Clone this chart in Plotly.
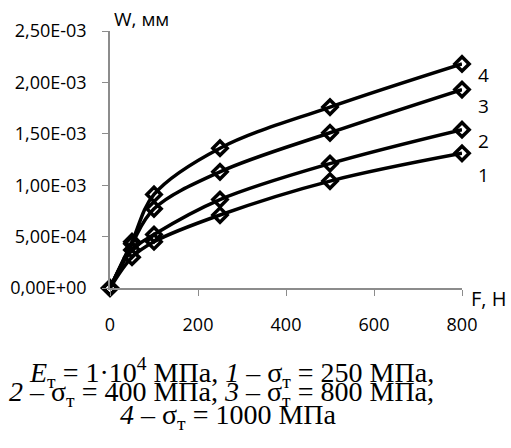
import plotly.graph_objects as go

F = [0, 50, 100, 250, 500, 800]
series = {
    "1": [0, 0.00030, 0.00045, 0.00071, 0.00104, 0.00131],
    "2": [0, 0.00037, 0.00052, 0.00086, 0.00121, 0.00154],
    "3": [0, 0.00043, 0.00077, 0.00113, 0.00151, 0.00193],
    "4": [0, 0.00045, 0.00091, 0.00136, 0.00176, 0.00218],
}
ytick_vals = [0, 0.0005, 0.001, 0.0015, 0.002, 0.0025]
ytick_text = ["0,00E+00", "5,00E-04", "1,00E-03", "1,50E-03", "2,00E-03", "2,50E-03"]
xtick_vals = [0, 200, 400, 600, 800]

L, R, T, B = 110, 462, 31, 288
W, H = 511, 448

fig = go.Figure()
for name, vals in series.items():
    fig.add_trace(go.Scatter(
        x=F, y=vals, mode="lines+markers", line=dict(color="black", width=3.5, shape="spline"),
        marker=dict(symbol="diamond-open", size=11, color="black", line=dict(width=3.5, color="black")),
        showlegend=False, cliponaxis=False, hoverinfo="skip"))

label_y = {"4": 0.00207, "3": 0.00177, "2": 0.00143, "1": 0.00110}
for name, yv in label_y.items():
    fig.add_annotation(x=800, y=yv, xref="x", yref="y", text=name, showarrow=False,
                       xanchor="left", xshift=14, font=dict(size=19, color="black", family="Open Sans"))

def px(xp):
    return (xp - L) / (R - L)

def py(yp):
    return (B - yp) / (B - T)

fig.add_annotation(x=px(112), y=py(19), xref="paper", yref="paper", text="W, мм", showarrow=False,
                   xanchor="left", yanchor="middle",
                   font=dict(size=19, color="black", family="Open Sans"))
fig.add_annotation(x=px(469), y=py(298), xref="paper", yref="paper", text="F, H", showarrow=False,
                   xanchor="left", yanchor="middle",
                   font=dict(size=20, color="black", family="Open Sans"))

cap_font = dict(size=28, color="black", family="Liberation Serif")
lines = [
    "<i>E</i><sub>т</sub> = 1·10<sup>4</sup> МПа, <i>1</i> – σ<sub>т</sub> = 250 МПа,",
    "<i>2</i> – σ<sub>т</sub> = 400 МПа, <i>3</i> – σ<sub>т</sub> = 800 МПа,",
    "<i>4</i> – σ<sub>т</sub> = 1000 МПа",
]
ys = [372, 394, 416]
xs = [231, 221, 228]
for t, yy, xx in zip(lines, ys, xs):
    fig.add_annotation(x=px(xx), y=py(yy), xref="paper", yref="paper", text=t, showarrow=False,
                       xanchor="center", yanchor="middle", font=cap_font)

fig.update_layout(
    width=W, height=H, margin=dict(l=L, r=W - R, t=T, b=H - B),
    paper_bgcolor="white", plot_bgcolor="white",
    font=dict(family="Open Sans", size=18, color="black"),
)
fig.update_xaxes(range=[0, 800], tickvals=xtick_vals, showgrid=False, zeroline=False,
                 showline=True, linecolor="#8c8c8c", linewidth=1.5, ticks="outside",
                 tickcolor="#8c8c8c", ticklen=6, tickfont=dict(size=18, color="black"),
                 ticklabelstandoff=14, automargin=False)
fig.update_yaxes(range=[0, 0.0025], tickvals=ytick_vals, ticktext=ytick_text, showgrid=False,
                 zeroline=False, showline=True, linecolor="#8c8c8c", linewidth=1.5, ticks="outside",
                 tickcolor="#8c8c8c", ticklen=6, tickfont=dict(size=18, color="black"),
                 ticklabelstandoff=12, automargin=False)

fig.write_html("out.html", config={"displayModeBar": False},
               post_script="document.body.style.margin='0px';")
